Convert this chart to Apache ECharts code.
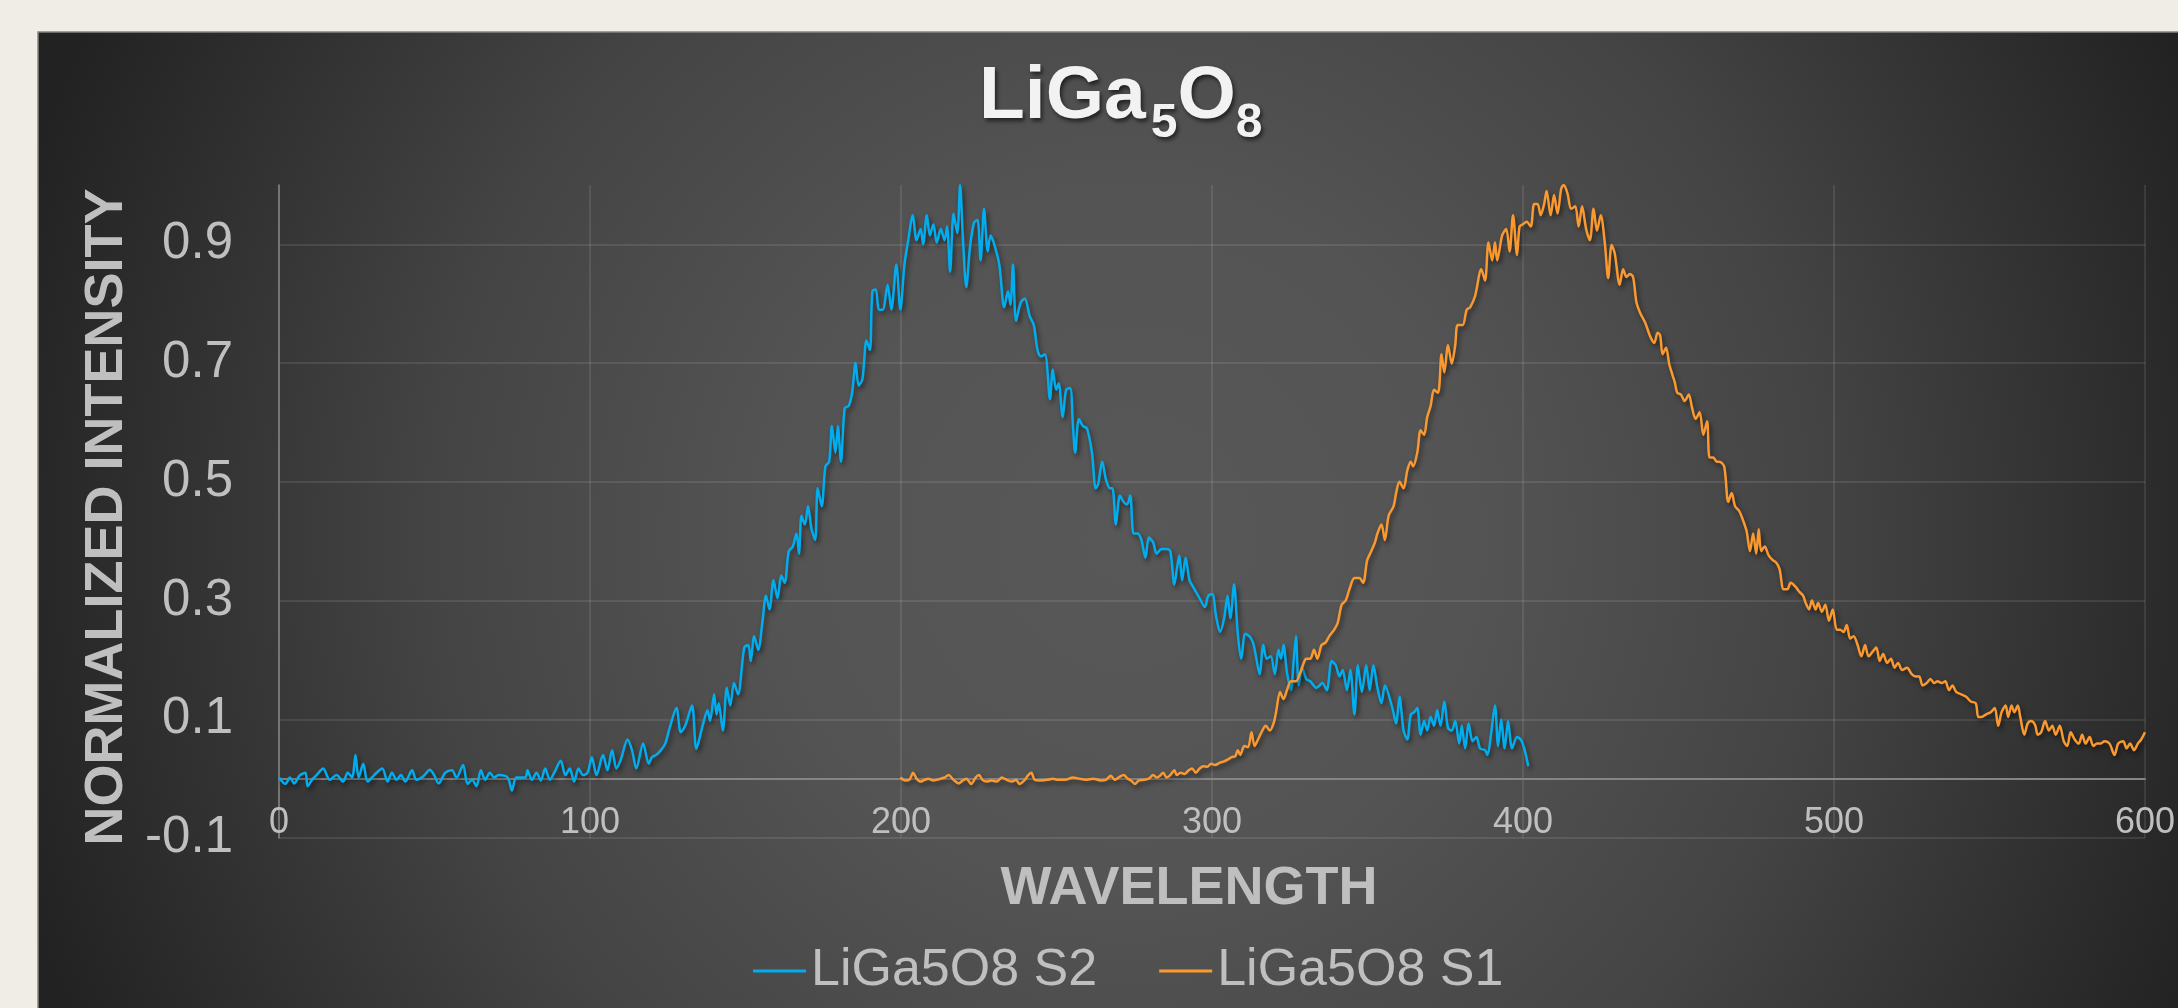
<!DOCTYPE html>
<html>
<head>
<meta charset="utf-8">
<title>LiGa5O8</title>
<script src="https://cdn.jsdelivr.net/npm/echarts@6/dist/echarts.min.js"></script>
<style>
  html, body { margin: 0; padding: 0; background: #F0EDE6; }
  #chart { width: 2178px; height: 1008px; }
</style>
</head>
<body>
<div id="chart"></div>
<script>
// Emission spectra of LiGa5O8, two samples, normalised to their maxima.
const seriesNames = ['LiGa5O8 S2', 'LiGa5O8 S1'];

// Sample S2 (blue)
const s2Wavelength = [
  0, 2.1, 3.5, 4.9, 6.6, 8.5, 9.2, 10.6, 12.1, 14.2,
  16.3, 18.5, 20.6, 22.1, 23.5, 24.6, 25.6, 27.1, 28.5, 30.6,
  33.2, 34.9, 36.3, 37.8, 39.2, 40.6, 42.8, 44.2, 46.4, 48.5,
  49.9, 51.3, 53.5, 55.6, 57.1, 59.2, 60.6, 62.1, 63.5, 64.9,
  66.3, 67.8, 69.2, 70.6, 73.5, 74.9, 76.3, 79.2, 79.9, 81.3,
  82.8, 84.2, 85.6, 87.1, 88.5, 90.6, 92.1, 93.5, 94.9, 96.3,
  97.8, 99.2, 100.6, 102.1, 104.2, 105.6, 107.1, 108.5, 109.9, 112.1,
  113.5, 114.9, 117.1, 118.9, 119.9, 121.3, 122.8, 124.2, 125.6, 127.8,
  129.2, 130.6, 132.8, 134.2, 136.2, 137.8, 138.6, 139.9, 140.7, 141.4,
  142.7, 144.0, 145.1, 146.3, 147.6, 149.6, 150.9, 151.7, 152.8, 154.1,
  155.4, 156.6, 157.7, 159.0, 160.3, 161.5, 162.6, 163.9, 165.2, 166.4,
  167.2, 168.0, 169.1, 170.1, 171.2, 172.4, 173.2, 174.5, 175.7, 176.9,
  177.8, 178.9, 179.7, 180.7, 181.9, 183.2, 184.3, 185.4, 186.4, 187.6,
  188.9, 190.0, 190.8, 191.9, 192.9, 194.1, 195.7, 196.9, 198.5, 199.8,
  201.1, 202.2, 203.8, 205.0, 206.3, 207.1, 208.3, 209.3, 210.4, 211.5,
  212.8, 214.0, 214.8, 215.8, 216.9, 218.1, 219.0, 219.9, 221.0, 222.2,
  223.5, 224.6, 225.6, 226.7, 227.9, 228.8, 230.0, 231.6, 233.2, 234.4,
  235.2, 236.0, 237.0, 238.5, 239.8, 241.4, 242.7, 243.9, 245.0, 246.3,
  247.9, 248.8, 249.9, 250.7, 252.0, 253.1, 254.4, 255.3, 256.0, 257.2,
  258.5, 259.8, 261.4, 262.6, 263.4, 264.7, 265.9, 267.2, 268.0, 269.1,
  270.4, 271.6, 272.7, 273.7, 274.8, 276.1, 277.3, 278.6, 279.7, 281.1,
  282.2, 283.8, 285.4, 286.6, 287.9, 288.7, 289.5, 290.4, 291.5, 292.8,
  294.4, 296.0, 297.7, 298.8, 300.1, 301.3, 302.6, 303.9, 305.0, 305.9,
  307.1, 308.3, 309.4, 310.7, 312.0, 313.2, 314.0, 315.3, 316.5, 317.6,
  318.9, 320.2, 321.4, 322.2, 323.0, 324.1, 325.4, 326.2, 327.0, 327.9,
  329.0, 330.3, 331.6, 333.6, 335.5, 336.9, 338.5, 339.8, 341.0, 342.0,
  343.4, 344.5, 345.8, 346.9, 348.2, 349.6, 350.7, 351.9, 353.2, 354.5,
  355.6, 358.0, 359.2, 360.3, 361.6, 362.8, 363.9, 365.0, 366.0, 367.1,
  368.2, 369.2, 370.3, 371.4, 372.4, 373.5, 374.7, 375.9, 377.1, 378.2,
  379.5, 380.3, 381.4, 382.5, 383.8, 385.0, 386.2, 387.8, 388.6, 389.7,
  391.0, 392.0, 393.0, 394.1, 395.2, 396.5, 398.1, 399.3, 400.4, 401.7
];
const s2Intensity = [
  0.002, -0.009, 0.002, -0.008, 0.005, 0.010, -0.013, -0.002, 0.006, 0.017,
  -0.002, 0.006, -0.005, 0.010, 0.002, 0.040, 0.002, 0.025, -0.005, 0.006,
  0.017, -0.005, 0.010, -0.002, 0.006, -0.005, 0.014, -0.002, 0.004, 0.015,
  0.006, -0.008, 0.010, 0.014, 0.002, 0.023, -0.009, -0.002, -0.013, 0.014,
  -0.002, 0.010, 0.002, 0.006, 0.002, -0.020, 0.002, 0.002, 0.014, -0.002,
  0.010, -0.003, 0.017, -0.002, 0.010, 0.030, 0.006, 0.017, -0.005, 0.017,
  0.006, 0.010, 0.036, 0.006, 0.040, 0.014, 0.048, 0.017, 0.032, 0.066,
  0.048, 0.017, 0.059, 0.025, 0.036, 0.040, 0.048, 0.059, 0.085, 0.119,
  0.078, 0.089, 0.123, 0.050, 0.089, 0.115, 0.097, 0.142, 0.108, 0.127,
  0.081, 0.153, 0.123, 0.161, 0.142, 0.221, 0.225, 0.198, 0.240, 0.217,
  0.262, 0.308, 0.285, 0.334, 0.304, 0.342, 0.330, 0.383, 0.391, 0.413,
  0.379, 0.443, 0.428, 0.459, 0.421, 0.402, 0.489, 0.459, 0.526, 0.534,
  0.594, 0.549, 0.594, 0.534, 0.624, 0.628, 0.651, 0.700, 0.662, 0.673,
  0.738, 0.722, 0.821, 0.824, 0.790, 0.790, 0.832, 0.790, 0.866, 0.790,
  0.866, 0.903, 0.949, 0.907, 0.926, 0.900, 0.949, 0.915, 0.934, 0.903,
  0.926, 0.907, 0.930, 0.854, 0.952, 0.919, 1.000, 0.911, 0.828, 0.896,
  0.937, 0.941, 0.873, 0.960, 0.888, 0.915, 0.900, 0.866, 0.794, 0.821,
  0.798, 0.866, 0.771, 0.802, 0.809, 0.779, 0.764, 0.722, 0.711, 0.715,
  0.639, 0.689, 0.655, 0.666, 0.609, 0.655, 0.658, 0.594, 0.549, 0.606,
  0.594, 0.590, 0.549, 0.489, 0.496, 0.534, 0.504, 0.489, 0.489, 0.428,
  0.477, 0.466, 0.462, 0.477, 0.413, 0.413, 0.402, 0.372, 0.406, 0.398,
  0.379, 0.387, 0.387, 0.383, 0.327, 0.353, 0.376, 0.334, 0.372, 0.334,
  0.319, 0.304, 0.289, 0.308, 0.311, 0.274, 0.247, 0.270, 0.308, 0.270,
  0.327, 0.244, 0.202, 0.244, 0.240, 0.229, 0.210, 0.176, 0.225, 0.202,
  0.206, 0.176, 0.217, 0.202, 0.225, 0.179, 0.149, 0.195, 0.240, 0.157,
  0.187, 0.168, 0.164, 0.153, 0.161, 0.149, 0.198, 0.191, 0.172, 0.183,
  0.149, 0.183, 0.108, 0.191, 0.146, 0.191, 0.149, 0.191, 0.153, 0.127,
  0.157, 0.119, 0.093, 0.138, 0.081, 0.066, 0.108, 0.112, 0.119, 0.074,
  0.097, 0.081, 0.104, 0.089, 0.115, 0.089, 0.130, 0.085, 0.081, 0.097,
  0.059, 0.089, 0.051, 0.093, 0.063, 0.070, 0.051, 0.048, 0.040, 0.074,
  0.123, 0.055, 0.100, 0.051, 0.097, 0.051, 0.070, 0.066, 0.051, 0.021
];

// Sample S1 (orange)
const s1Wavelength = [
  199.8, 201.4, 202.7, 203.9, 205.0, 206.3, 207.6, 208.8, 210.4, 211.5,
  212.8, 214.1, 215.3, 216.9, 218.6, 219.4, 221.0, 222.6, 224.0, 225.1,
  226.2, 227.5, 229.1, 230.8, 232.4, 234.0, 235.7, 237.0, 238.1, 239.8,
  240.9, 241.9, 243.0, 244.7, 247.1, 248.8, 250.4, 252.8, 255.3, 257.2,
  259.4, 261.8, 264.2, 265.9, 267.5, 268.7, 270.0, 271.6, 272.9, 274.0,
  275.2, 276.5, 278.1, 279.7, 281.1, 282.2, 283.3, 284.3, 285.4, 286.6,
  287.9, 288.7, 289.9, 291.2, 292.5, 293.6, 294.8, 296.0, 297.2, 298.5,
  299.7, 301.0, 302.6, 303.9, 305.0, 306.2, 307.5, 308.3, 309.1, 310.4,
  311.6, 312.7, 313.7, 314.8, 315.9, 317.3, 318.6, 319.8, 320.6, 321.9,
  323.0, 324.1, 325.4, 327.0, 328.4, 329.5, 330.3, 331.6, 332.8, 333.9,
  335.2, 336.5, 337.7, 339.3, 340.4, 341.7, 343.0, 344.2, 345.8, 347.4,
  348.6, 349.9, 351.2, 352.4, 353.2, 354.5, 355.6, 356.8, 358.4, 359.2,
  360.3, 361.6, 362.8, 363.9, 364.7, 366.0, 367.1, 368.2, 369.2, 370.3,
  371.4, 372.7, 373.8, 374.7, 375.9, 377.1, 378.2, 379.0, 380.6, 381.9,
  383.0, 384.6, 386.6, 387.8, 388.9, 390.1, 391.0, 391.7, 393.3, 394.6,
  395.7, 396.8, 398.1, 398.9, 400.0, 401.2, 402.5, 403.6, 404.7, 405.7,
  406.8, 407.6, 408.9, 410.0, 411.1, 412.3, 413.1, 414.3, 415.5, 416.8,
  417.9, 419.0, 420.3, 421.5, 422.7, 423.8, 425.0, 426.3, 427.4, 428.5,
  429.5, 431.1, 432.2, 433.3, 434.3, 435.4, 436.5, 437.8, 439.3, 440.9,
  442.2, 443.3, 444.1, 444.9, 446.0, 447.0, 448.0, 448.8, 449.6, 450.8,
  452.0, 453.3, 454.4, 455.5, 456.8, 458.0, 459.2, 460.0, 461.2, 462.3,
  463.1, 464.7, 466.0, 467.1, 468.2, 469.5, 470.7, 471.9, 473.0, 474.0,
  475.0, 475.8, 476.6, 477.7, 479.0, 480.3, 481.4, 482.5, 483.8, 485.0,
  486.1, 487.7, 488.8, 490.1, 490.9, 492.0, 492.9, 494.1, 494.9, 496.1,
  497.2, 498.4, 499.6, 500.9, 502.0, 503.1, 504.1, 505.2, 506.3, 507.6,
  508.8, 510.0, 511.1, 512.3, 513.6, 514.7, 515.8, 517.1, 518.3, 519.5,
  520.6, 521.9, 523.5, 525.0, 526.3, 527.4, 528.5, 529.8, 531.0, 532.2,
  533.3, 534.6, 535.8, 537.0, 538.1, 539.3, 540.9, 542.5, 544.0, 545.6,
  546.4, 547.5, 548.8, 550.4, 551.7, 552.8, 553.9, 555.2, 556.0, 557.1,
  558.0, 559.1, 559.9, 561.2, 562.3, 563.4, 564.7, 565.5, 566.6, 567.9,
  569.1, 570.2, 571.3, 572.6, 573.9, 575.0, 576.1, 577.4, 578.7, 579.8,
  580.9, 582.2, 583.4, 584.6, 585.7, 587.0, 588.6, 590.2, 591.4, 593.0,
  594.1, 595.2, 596.5, 597.7, 598.8, 600.0
];
const s1Intensity = [
  0.002, -0.003, -0.002, 0.010, 0.000, -0.005, -0.002, 0.000, -0.003, -0.002,
  0.000, 0.002, 0.006, -0.002, -0.008, -0.005, 0.000, -0.009, 0.002, 0.006,
  -0.002, -0.005, -0.003, -0.005, 0.002, -0.002, -0.005, -0.002, -0.009, -0.002,
  0.006, 0.010, -0.002, -0.003, -0.002, 0.000, -0.002, -0.002, 0.002, 0.000,
  -0.002, 0.000, -0.003, -0.002, 0.005, -0.002, 0.002, 0.006, 0.000, -0.003,
  -0.009, -0.003, -0.002, 0.000, 0.006, 0.002, 0.005, 0.010, 0.002, 0.006,
  0.014, 0.006, 0.010, 0.008, 0.014, 0.017, 0.010, 0.017, 0.021, 0.020,
  0.025, 0.023, 0.027, 0.029, 0.032, 0.036, 0.038, 0.048, 0.040, 0.055,
  0.053, 0.078, 0.055, 0.066, 0.078, 0.089, 0.081, 0.093, 0.112, 0.146,
  0.134, 0.149, 0.164, 0.164, 0.179, 0.195, 0.202, 0.202, 0.217, 0.202,
  0.225, 0.229, 0.240, 0.251, 0.262, 0.293, 0.300, 0.319, 0.338, 0.338,
  0.330, 0.368, 0.383, 0.398, 0.413, 0.428, 0.402, 0.443, 0.459, 0.481,
  0.500, 0.489, 0.519, 0.534, 0.526, 0.549, 0.587, 0.579, 0.609, 0.628,
  0.655, 0.650, 0.715, 0.684, 0.730, 0.699, 0.730, 0.764, 0.764, 0.790,
  0.794, 0.813, 0.858, 0.839, 0.903, 0.873, 0.903, 0.873, 0.915, 0.926,
  0.888, 0.949, 0.882, 0.930, 0.934, 0.938, 0.930, 0.968, 0.968, 0.949,
  0.968, 0.990, 0.949, 0.983, 0.952, 0.994, 1.000, 0.986, 0.960, 0.964,
  0.930, 0.964, 0.926, 0.907, 0.960, 0.923, 0.949, 0.903, 0.843, 0.899,
  0.885, 0.832, 0.858, 0.845, 0.850, 0.845, 0.802, 0.783, 0.768, 0.745,
  0.734, 0.751, 0.747, 0.715, 0.726, 0.699, 0.681, 0.668, 0.650, 0.647,
  0.636, 0.647, 0.624, 0.606, 0.617, 0.579, 0.602, 0.541, 0.541, 0.534,
  0.534, 0.526, 0.466, 0.481, 0.459, 0.451, 0.436, 0.417, 0.383, 0.413,
  0.379, 0.420, 0.383, 0.391, 0.376, 0.368, 0.364, 0.353, 0.319, 0.319,
  0.330, 0.323, 0.315, 0.308, 0.296, 0.285, 0.300, 0.285, 0.296, 0.281,
  0.293, 0.266, 0.285, 0.251, 0.251, 0.247, 0.259, 0.236, 0.240, 0.225,
  0.206, 0.225, 0.206, 0.213, 0.221, 0.198, 0.210, 0.195, 0.202, 0.187,
  0.195, 0.183, 0.187, 0.176, 0.172, 0.172, 0.157, 0.161, 0.168, 0.161,
  0.164, 0.161, 0.164, 0.149, 0.157, 0.146, 0.142, 0.138, 0.130, 0.127,
  0.104, 0.104, 0.108, 0.112, 0.119, 0.089, 0.112, 0.123, 0.104, 0.123,
  0.112, 0.123, 0.104, 0.074, 0.093, 0.097, 0.090, 0.074, 0.078, 0.097,
  0.081, 0.089, 0.074, 0.089, 0.063, 0.055, 0.078, 0.066, 0.059, 0.074,
  0.059, 0.070, 0.055, 0.059, 0.059, 0.063, 0.059, 0.040, 0.059, 0.063,
  0.051, 0.059, 0.048, 0.059, 0.066, 0.078
];

// Axis ticks
const xTicks = [0, 100, 200, 300, 400, 500, 600];
const yTicks = [-0.1, 0.1, 0.3, 0.5, 0.7, 0.9];
const yMax = 1.0;

const seriesColors = ['#00ADEF', '#FA992F'];
const FONT = "'Liberation Sans', Arial, Helvetica, sans-serif";
const labelGrey = '#BFBFBF';
const gridGrey = 'rgba(255,255,255,0.13)';

const chart = echarts.init(document.getElementById('chart'), null, { renderer: 'canvas' });

const toPairs = (xs, ys) => xs.map((x, i) => [x, ys[i]]);
const lineShadow = { shadowColor: 'rgba(0,0,0,0.55)', shadowBlur: 5, shadowOffsetX: 2, shadowOffsetY: 3 };
const titleShadow = { textShadowColor: 'rgba(0,0,0,0.6)', textShadowBlur: 4, textShadowOffsetX: 2, textShadowOffsetY: 3 };

// Title pieces: main letters and lowered subscript digits (token height pushes the digits down)
const titleMain = Object.assign({ color: '#F2F2F2', fontFamily: FONT, fontWeight: 'bold', fontSize: 75, height: 80, lineHeight: 80, verticalAlign: 'top' }, titleShadow);
const titleSub = Object.assign({ color: '#F2F2F2', fontFamily: FONT, fontWeight: 'bold', fontSize: 48, height: 133, lineHeight: 133, verticalAlign: 'top' }, titleShadow);

chart.setOption({
  animation: false,
  backgroundColor: '#F0EDE6',
  graphic: [
    {
      type: 'rect', z: -100, silent: true,
      shape: { x: 38, y: 32, width: 2240, height: 1100 },
      style: {
        fill: new echarts.graphic.RadialGradient(1127, 540, 1160, [
          { offset: 0, color: '#585858' },
          { offset: 0.3, color: '#545454' },
          { offset: 0.6, color: '#444444' },
          { offset: 0.8, color: '#333333' },
          { offset: 1, color: '#222222' }
        ], true),
        stroke: '#86857F',
        lineWidth: 1.5
      }
    }
  ],
  title: {
    text: '{m|LiGa}{a|5}{m|O}{s|8}',
    left: 979,
    top: 57,
    padding: 0,
    textStyle: Object.assign({
      color: '#F2F2F2', fontFamily: FONT, fontWeight: 'bold', fontSize: 75,
      rich: {
        m: titleMain,
        a: Object.assign({}, titleSub, { padding: [0, 0, 0, 5] }),
        s: titleSub
      }
    }, titleShadow)
  },
  legend: {
    data: seriesNames,
    left: 753,
    top: 941,
    padding: 0,
    icon: 'rect',
    itemWidth: 53,
    itemHeight: 3,
    itemGap: 62,
    textStyle: { color: labelGrey, fontSize: 52, fontFamily: FONT, lineHeight: 60 }
  },
  grid: { left: 279, right: 23, top: 185, bottom: 170, containLabel: false },
  xAxis: {
    type: 'value',
    min: xTicks[0],
    max: xTicks[xTicks.length - 1],
    interval: xTicks[1] - xTicks[0],
    name: 'WAVELENGTH',
    nameLocation: 'middle',
    nameGap: 24,
    nameTextStyle: { color: labelGrey, fontSize: 54, fontWeight: 'bold', fontFamily: FONT, lineHeight: 54, padding: [0, 46, 0, 0] },
    axisLine: { onZero: true, lineStyle: { color: '#858585', width: 2 } },
    axisTick: { show: false },
    axisLabel: { color: labelGrey, fontSize: 36, fontFamily: FONT, lineHeight: 36, margin: -33 },
    splitLine: { show: true, lineStyle: { color: gridGrey, width: 1.5 } }
  },
  yAxis: {
    type: 'value',
    min: yTicks[0],
    max: yMax,
    interval: yTicks[1] - yTicks[0],
    name: 'NORMALIZED INTENSITY',
    nameLocation: 'middle',
    nameGap: 144,
    nameTextStyle: { color: labelGrey, fontSize: 54, fontWeight: 'bold', fontFamily: FONT, lineHeight: 54, padding: [0, 11, 0, 0] },
    axisLine: { show: true, onZero: true, lineStyle: { color: '#858585', width: 1.5 } },
    axisTick: { show: false },
    axisLabel: {
      color: labelGrey, fontSize: 51, fontFamily: FONT, margin: 46,
      showMaxLabel: false,
      formatter: v => {
        const r = Math.round(v * 10) / 10;
        return yTicks.some(t => Math.abs(t - r) < 1e-9) ? String(r) : '';
      }
    },
    splitLine: {
      show: true,
      lineStyle: {
        color: yTicks.map(() => gridGrey).concat(['rgba(0,0,0,0)']),
        width: 1.5
      }
    }
  },
  series: [
    {
      name: seriesNames[0],
      type: 'line',
      data: toPairs(s2Wavelength, s2Intensity),
      showSymbol: false,
      symbol: 'none',
      smooth: 0.3,
      itemStyle: { color: seriesColors[0] },
      lineStyle: Object.assign({ color: seriesColors[0], width: 2.5 }, lineShadow)
    },
    {
      name: seriesNames[1],
      type: 'line',
      data: toPairs(s1Wavelength, s1Intensity),
      showSymbol: false,
      symbol: 'none',
      smooth: 0.3,
      itemStyle: { color: seriesColors[1] },
      lineStyle: Object.assign({ color: seriesColors[1], width: 2.5 }, lineShadow)
    }
  ]
});
</script>
</body>
</html>
